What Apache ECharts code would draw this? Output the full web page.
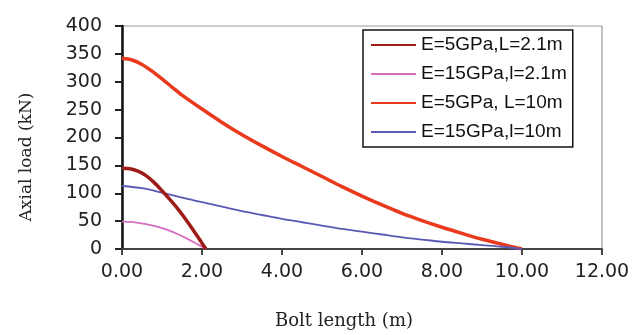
<!DOCTYPE html>
<html>
<head>
<meta charset="utf-8">
<script src="https://cdn.jsdelivr.net/npm/echarts@6/dist/echarts.min.js"></script>
<style>
html,body{margin:0;padding:0;background:#fff;}
#chart{width:636px;height:335px;}
</style>
</head>
<body>
<div id="chart"></div>
<script>
var seriesNames = ['E=5GPa,L=2.1m', 'E=15GPa,l=2.1m', 'E=5GPa, L=10m', 'E=15GPa,l=10m'];
var xShort = [0, 0.2, 0.4, 0.6, 0.8, 1.0, 1.2, 1.4, 1.6, 1.8, 2.0, 2.1];
var y5Short = [145, 144, 139.5, 131.5, 119.5, 104.5, 88.5, 71.5, 52.5, 32, 10.5, 0];
var y15Short = [49, 48.5, 47, 44.5, 41.5, 37.5, 32.5, 26.5, 19.5, 12, 4, 0];
var xLong5 = [0, 0.25, 0.5, 0.75, 1.0, 1.25, 1.5, 2.0, 2.5, 3.0, 3.5, 4.0, 4.5, 5.0, 5.5, 6.0, 6.5, 7.0, 7.5, 8.0, 8.5, 9.0, 9.5, 10.0];
var y5Long = [342, 339, 331, 319, 305, 290.5, 276, 251, 227, 205, 185, 166, 148, 130, 112, 95, 79, 64, 51, 39, 28, 17.5, 8.5, 0];
var xLong15 = [0, 0.5, 1.0, 1.5, 2.0, 2.5, 3.0, 3.5, 4.0, 4.5, 5.0, 5.5, 6.0, 6.5, 7.0, 7.5, 8.0, 8.5, 9.0, 9.5, 10.0];
var y15Long = [113, 109, 101, 92, 84, 76, 68, 61, 54, 48, 42, 36, 31, 26, 21, 17, 13, 10, 7, 4, 0];
var xTicks = [0, 2, 4, 6, 8, 10, 12];
var yTicks = [0, 50, 100, 150, 200, 250, 300, 350, 400];

function pairs(xs, ys) { return xs.map(function (x, i) { return [x, ys[i]]; }); }

var colors = ['#9e1c18', '#d46fc0', '#ea3a1e', '#5a5ab4'];
var widths = [3.5, 1.8, 3.5, 1.8];
var datas = [pairs(xShort, y5Short), pairs(xShort, y15Short), pairs(xLong5, y5Long), pairs(xLong15, y15Long)];

var chart = echarts.init(document.getElementById('chart'));
chart.setOption({
  animation: false,
  backgroundColor: '#fff',
  grid: { left: 122, right: 34, top: 26, bottom: 85, show: true, borderColor: '#999', borderWidth: 1.2, backgroundColor: '#fff' },
  legend: {
    orient: 'vertical', left: 363, top: 30,
    backgroundColor: '#fff', borderColor: '#111', borderWidth: 1.5,
    padding: [5.5, 6, 5.5, 7],
    itemWidth: 45, itemHeight: 14, itemGap: 10,
    itemStyle: { opacity: 0 },
    textStyle: { fontFamily: 'Liberation Sans', fontSize: 19, color: '#111', lineHeight: 19 },
    data: seriesNames
  },
  xAxis: {
    type: 'value', min: xTicks[0], max: xTicks[xTicks.length - 1], interval: 2,
    name: 'Bolt length (m)', nameLocation: 'middle', nameGap: 63,
    nameTextStyle: { fontFamily: 'DejaVu Serif', fontSize: 18, color: '#222', padding: [0, 36, 0, 0] },
    axisLine: { lineStyle: { color: '#444', width: 2 } },
    axisTick: { show: true, length: 6, lineStyle: { color: '#444', width: 2 } },
    axisLabel: { fontFamily: 'DejaVu Sans', fontSize: 19, color: '#222', margin: 14, formatter: function (v) { return v.toFixed(2); } },
    splitLine: { show: false }
  },
  yAxis: {
    type: 'value', min: yTicks[0], max: yTicks[yTicks.length - 1], interval: 50,
    name: 'Axial load (kN)', nameLocation: 'middle', nameGap: 87, nameRotate: 90,
    nameTextStyle: { fontFamily: 'DejaVu Serif', fontSize: 17, color: '#222', padding: [0, 39, 0, 0] },
    axisLine: { show: true, lineStyle: { color: '#111', width: 2.5 } },
    axisTick: { show: true, length: 7, lineStyle: { color: '#222', width: 2 } },
    axisLabel: { fontFamily: 'DejaVu Sans', fontSize: 19, color: '#222', margin: 20 },
    splitLine: { show: false }
  },
  series: seriesNames.map(function (n, i) {
    return {
      name: n, type: 'line', data: datas[i], smooth: 0.3, symbol: 'none',
      lineStyle: { color: colors[i], width: widths[i] },
      itemStyle: { color: colors[i] },
      z: i === 0 ? 5 : 3
    };
  })
});
</script>
</body>
</html>
